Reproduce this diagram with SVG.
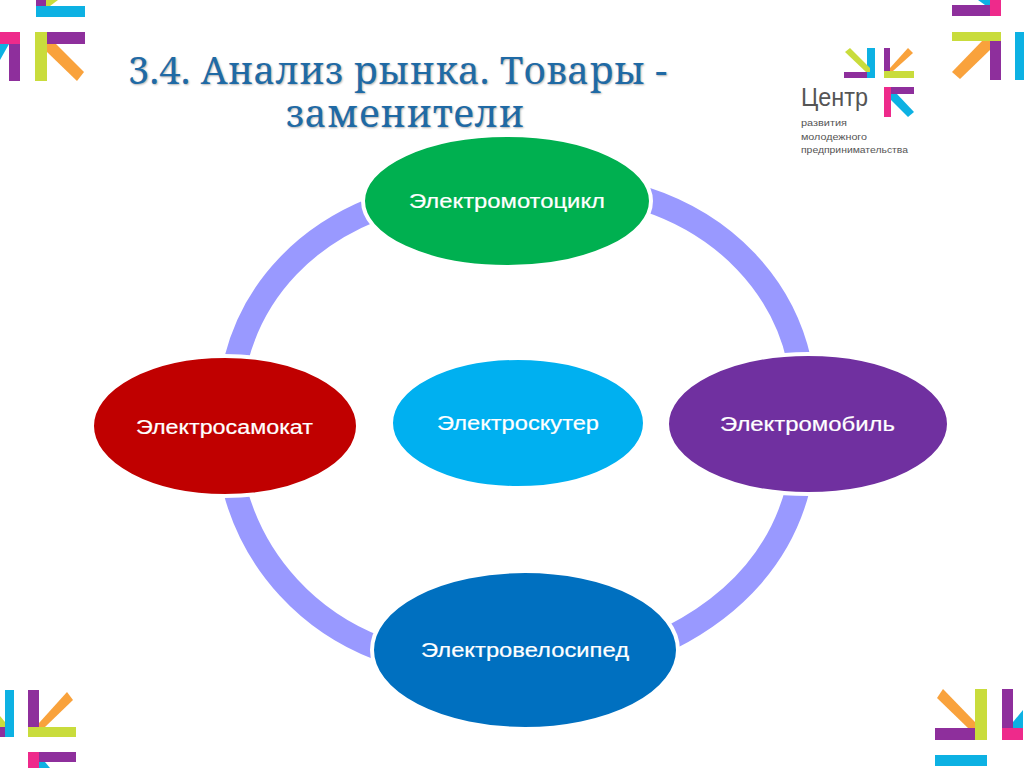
<svg xmlns="http://www.w3.org/2000/svg" width="1024" height="768" viewBox="0 0 1024 768">
<style>
.t{font-family:"Liberation Sans",Arial,sans-serif;font-size:20px;fill:#fff;stroke:#fff;stroke-width:.2px}
.h{font-family:"Noto Serif","DejaVu Serif","Liberation Serif",serif;font-size:38px;fill:#1F6AA5;text-shadow:1px 1px 2px rgba(0,0,0,.3)}
.r{fill:none;stroke:#9999FF;stroke-width:24}
.n{stroke:#fff;stroke-width:4}
.p{fill:#8E2F9C}.y{fill:#C9DC3C}.o{fill:#F9A23C}.c{fill:#0DB1E3}.m{fill:#EE2A8B}
.l{font-family:"Liberation Sans",Arial,sans-serif;fill:#555}
</style>
<rect width="1024" height="768" fill="#fff"/>
<g id="deco">
<rect x="36" y="6" width="49" height="11" class="c"/><rect x="36" y="0" width="10" height="6" class="p"/><path d="M46 0H58L50 6H46Z" class="y"/>
<path d="M0 32H20V44H9L0 50Z" class="m"/><path d="M0 44H9L0 60Z" class="c"/><rect x="9" y="44" width="11" height="37" class="p"/>
<rect x="35" y="32" width="12" height="49" class="y"/><rect x="47" y="32" width="38" height="12" class="p"/><path d="M47 44H56L84 72L77 81L47 52Z" class="o"/>
<rect x="952" y="5" width="38" height="11" class="p"/><rect x="990" y="0" width="11" height="16" class="m"/><path d="M978 0H990V5H985Z" class="c"/>
<rect x="952" y="32" width="49" height="9" class="y"/><path d="M982 41H990V50L960 79L952 72Z" class="o"/><rect x="990" y="41" width="11" height="39" class="p"/><rect x="1015" y="32" width="9" height="48" class="c"/>
<path d="M0 716L5 722V727H0Z" class="y"/><rect x="5" y="690" width="9" height="47" class="c"/><rect x="0" y="727" width="5" height="10" class="p"/>
<rect x="28" y="690" width="11" height="37" class="p"/><rect x="28" y="727" width="48" height="10" class="y"/><path d="M39 723L67 692L73 700L45 727H39Z" class="o"/>
<rect x="39" y="752" width="37" height="10" class="p"/><rect x="28" y="752" width="11" height="16" class="m"/><path d="M39 762H45L50 768H39Z" class="c"/>
<path d="M937 698L943 689L975 722V728H968Z" class="o"/><rect x="975" y="689" width="12" height="51" class="y"/><rect x="935" y="728" width="40" height="12" class="p"/>
<rect x="935" y="755" width="52" height="11" class="c"/>
<rect x="1002" y="689" width="11" height="39" class="p"/><rect x="1002" y="728" width="21" height="12" class="m"/><path d="M1013 722L1023 710V728H1013Z" class="c"/>
</g>
<g id="title"><text class="h"><tspan x="128" y="84" letter-spacing=".28">3.4. Анализ рынка. Товары -</tspan><tspan x="286" y="127" letter-spacing=".7">заменители</tspan></text></g>
<g id="logo">
<rect x="844" y="72" width="23" height="6" class="p"/><rect x="867" y="48" width="8" height="30" class="c"/><path d="M845 52L850 48L870 68V72H866Z" class="y"/>
<rect x="884" y="48" width="6" height="23" class="p"/><rect x="884" y="71" width="30" height="7" class="y"/><path d="M890 68L908 48L913 53L893 71H890Z" class="o"/>
<rect x="884" y="87" width="7" height="30" class="m"/><rect x="891" y="87" width="23" height="7" class="p"/><path d="M891 94H897L914 112L908 117L891 100Z" class="c"/>
<text class="l" x="801" y="106" font-size="25" textLength="67" lengthAdjust="spacingAndGlyphs">Центр</text>
<text class="l" x="801" y="126" font-size="9" textLength="46" lengthAdjust="spacingAndGlyphs">развития</text>
<text class="l" x="801" y="140" font-size="9" textLength="66" lengthAdjust="spacingAndGlyphs">молодежного</text>
<text class="l" x="801" y="153" font-size="9" textLength="107" lengthAdjust="spacingAndGlyphs">предпринимательства</text>
</g>
<g id="connectors">
<path class="r" d="M645 199C725 225 782 285 799 360"/>
<path class="r" d="M372 210C310 235 255 285 236 360"/>
<path class="r" d="M235 490C255 565 310 622 378 648"/>
<path class="r" d="M798 488C781 555 735 605 670 638"/>
</g>
<g id="n1"><ellipse class="n" cx="507" cy="201" rx="144" ry="66" fill="#00B050"/><text class="t" x="409" y="208" textLength="196" lengthAdjust="spacingAndGlyphs">Электромотоцикл</text></g>
<g id="n2"><ellipse class="n" cx="808" cy="424" rx="141" ry="70" fill="#7030A0"/><text class="t" x="720" y="431" textLength="175" lengthAdjust="spacingAndGlyphs">Электромобиль</text></g>
<g id="n3"><ellipse class="n" cx="525" cy="650" rx="153" ry="79" fill="#0070C0"/><text class="t" x="421" y="657" textLength="208" lengthAdjust="spacingAndGlyphs">Электровелосипед</text></g>
<g id="n4"><ellipse class="n" cx="225" cy="426" rx="133" ry="70" fill="#C00000"/><text class="t" x="136" y="434" textLength="177" lengthAdjust="spacingAndGlyphs">Электросамокат</text></g>
<g id="n5"><ellipse class="n" cx="518" cy="423" rx="127" ry="65" fill="#00B0F0"/><text class="t" x="437" y="430" textLength="162" lengthAdjust="spacingAndGlyphs">Электроскутер</text></g>
</svg>
